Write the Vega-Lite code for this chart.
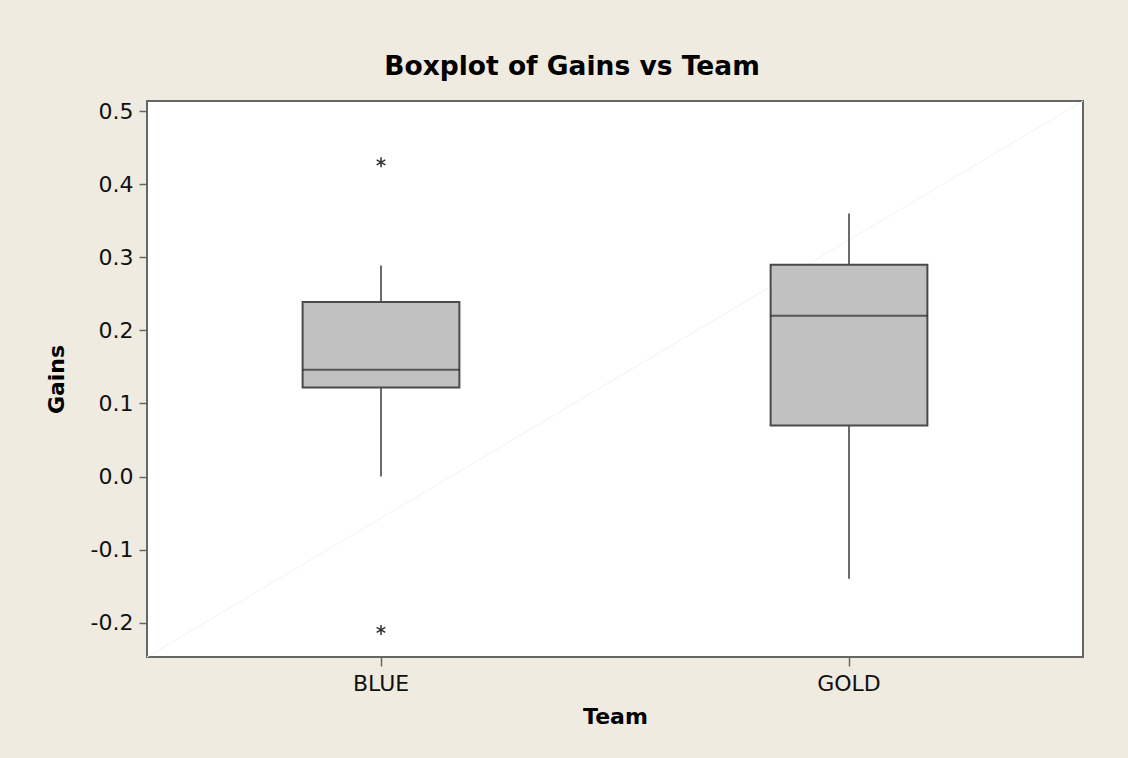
{
  "$schema": "https://vega.github.io/schema/vega-lite/v6.json",
  "width": 936,
  "height": 556,
  "autosize": {"type": "none"},
  "padding": {"left": 147, "top": 101, "right": 45, "bottom": 101},
  "background": "#EFEBE1",
  "title": {
    "text": "Boxplot of Gains vs Team",
    "font": "DejaVu Sans",
    "fontSize": 26.5,
    "fontWeight": "bold",
    "color": "#000000",
    "anchor": "middle",
    "dx": -43,
    "offset": 19
  },
  "config": {
    "view": {"fill": "white", "stroke": "#666666", "strokeWidth": 2},
    "axis": {
      "labelFont": "DejaVu Sans",
      "labelFontSize": 22,
      "labelColor": "#111111",
      "titleFont": "DejaVu Sans",
      "titleFontSize": 22,
      "titleFontWeight": "bold",
      "titleColor": "#000000",
      "tickColor": "#666666",
      "tickWidth": 1.5,
      "domain": false,
      "grid": false
    }
  },
  "datasets": {
    "stats": [
      {"Team": "BLUE", "lower": 0.0, "q1": 0.122, "median": 0.146, "q3": 0.239, "upper": 0.289},
      {"Team": "GOLD", "lower": -0.14, "q1": 0.07, "median": 0.22, "q3": 0.29, "upper": 0.36}
    ],
    "outliers": [
      {"Team": "BLUE", "Gains": 0.43},
      {"Team": "BLUE", "Gains": -0.21}
    ],
    "diag": [
      {"u": 0, "v": -0.247},
      {"u": 1, "v": 0.514}
    ]
  },
  "resolve": {"scale": {"x": "independent"}},
  "layer": [
    {
      "data": {"name": "diag"},
      "mark": {"type": "line", "color": "#f2f2f2", "strokeWidth": 1},
      "encoding": {
        "x": {"field": "u", "type": "quantitative", "scale": {"domain": [0, 1], "nice": false, "zero": false}, "axis": null},
        "y": {
          "field": "v",
          "type": "quantitative",
          "scale": {"domain": [-0.247, 0.514], "nice": false, "zero": false},
          "axis": {
            "title": "Gains",
            "values": [-0.2, -0.1, 0, 0.1, 0.2, 0.3, 0.4, 0.5],
            "labelExpr": "datum.value < 0 ? '-' + format(-datum.value, '.1f') : format(datum.value, '.1f')",
            "tickSize": 8,
            "labelPadding": 6,
            "titlePadding": 22
          }
        }
      }
    },
    {
      "encoding": {
        "x": {
          "field": "Team",
          "type": "nominal",
          "scale": {"paddingInner": 0.665, "paddingOuter": 0.3325},
          "axis": {"title": "Team", "labelAngle": 0, "tickSize": 9, "labelPadding": 7, "titlePadding": 12}
        }
      },
      "layer": [
        {
          "data": {"name": "stats"},
          "mark": {"type": "rule", "color": "#3a3a3a", "strokeWidth": 1.5},
          "encoding": {
            "y": {
              "field": "lower",
              "type": "quantitative",
              "axis": {
                "title": "Gains",
                "values": [-0.2, -0.1, 0, 0.1, 0.2, 0.3, 0.4, 0.5],
                "labelExpr": "datum.value < 0 ? '-' + format(-datum.value, '.1f') : format(datum.value, '.1f')",
                "tickSize": 8,
                "labelPadding": 6,
                "titlePadding": 22
              }
            },
            "y2": {"field": "upper"}
          }
        },
        {
          "data": {"name": "stats"},
          "mark": {"type": "bar", "fill": "#C1C1C1", "stroke": "#4a4a4a", "strokeWidth": 2},
          "encoding": {
            "y": {"field": "q1", "type": "quantitative"},
            "y2": {"field": "q3"}
          }
        },
        {
          "data": {"name": "stats"},
          "mark": {"type": "tick", "orient": "horizontal", "color": "#2a2a2a", "thickness": 2, "size": 157},
          "encoding": {
            "y": {"field": "median", "type": "quantitative"}
          }
        },
        {
          "data": {"name": "outliers"},
          "mark": {
            "type": "point",
            "shape": "M0,-1L0,1M-0.87,-0.5L0.87,0.5M-0.87,0.5L0.87,-0.5",
            "filled": false,
            "stroke": "#333333",
            "strokeWidth": 1.5,
            "size": 100,
            "opacity": 1
          },
          "encoding": {
            "y": {"field": "Gains", "type": "quantitative"}
          }
        }
      ]
    }
  ]
}
